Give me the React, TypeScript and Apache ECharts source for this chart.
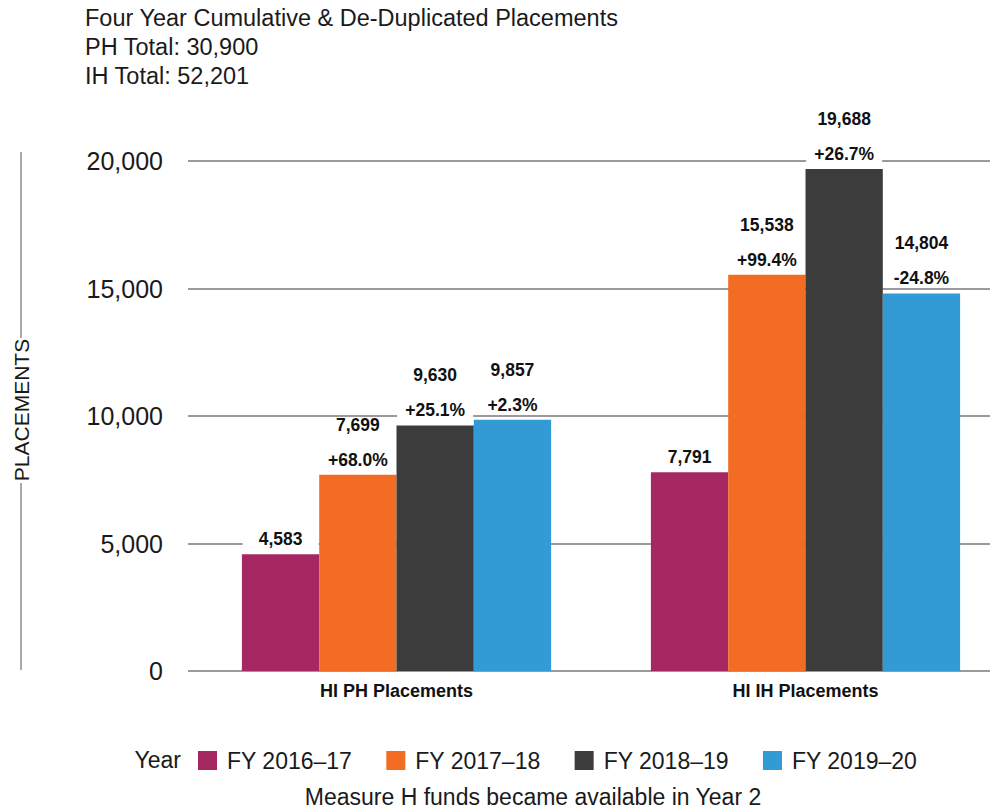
import React, { useEffect, useRef } from "react";
import * as echarts from "echarts";

const categories = ["HI PH Placements", "HI IH Placements"];
const seriesNames = ["FY 2016–17", "FY 2017–18", "FY 2018–19", "FY 2019–20"];
const values2016 = [4583, 7791];
const values2017 = [7699, 15538];
const values2018 = [9630, 19688];
const values2019 = [9857, 14804];
const change2016: (string | null)[] = [null, null];
const change2017 = ["+68.0%", "+99.4%"];
const change2018 = ["+25.1%", "+26.7%"];
const change2019 = ["+2.3%", "-24.8%"];
const colors = ["#A52862", "#F26C23", "#3C3C3C", "#329BD5"];
const titleLines = [
  "Four Year Cumulative & De-Duplicated Placements",
  "PH Total: 30,900",
  "IH Total: 52,201",
];
const yAxisName = "PLACEMENTS";
const legendTitle = "Year";
const footnote = "Measure H funds became available in Year 2";

const FONT = "'Liberation Sans', Arial, sans-serif";

export default function App() {
  const ref = useRef<HTMLDivElement>(null);
  useEffect(() => {
    document.body.style.margin = "0";
    if (!ref.current) return;
    const chart = echarts.init(ref.current, null, { renderer: "svg" });
    const allValues = [values2016, values2017, values2018, values2019];
    const allChanges = [change2016, change2017, change2018, change2019];
    const fmt = (n: number) => n.toLocaleString("en-US");
    const series = seriesNames.map((name, i) => ({
      name,
      type: "bar",
      barGap: "0%",
      barCategoryGap: "24.4%",
      itemStyle: { color: colors[i] },
      data: allValues[i],
      label: {
        show: true,
        position: "top",
        distance: 5,
        formatter: (p: any) => {
          const c = allChanges[i][p.dataIndex];
          return c ? `{v|${fmt(p.value)}}\n{p|${c}}` : `{p|${fmt(p.value)}}`;
        },
        rich: {
          v: {
            fontFamily: FONT,
            fontSize: 17.5,
            fontWeight: "bold",
            color: "#111",
            lineHeight: 50,
            width: 76,
            align: "center",
          },
          p: {
            fontFamily: FONT,
            fontSize: 17.5,
            fontWeight: "bold",
            color: "#111",
            lineHeight: 20,
            width: 76,
            align: "center",
            backgroundColor: "#ffffff",
          },
        },
      },
    }));

    chart.setOption({
      animation: false,
      backgroundColor: "#ffffff",
      textStyle: { fontFamily: FONT },
      title: {
        text: titleLines.join("\n"),
        left: 85,
        top: 3,
        padding: 0,
        textStyle: {
          fontFamily: FONT,
          fontSize: 23.5,
          fontWeight: "normal",
          color: "#1a1a1a",
          lineHeight: 29,
        },
      },
      legend: {
        left: 198,
        top: 749,
        padding: 0,
        itemWidth: 19,
        itemHeight: 19,
        itemGap: 34,
        icon: "rect",
        data: seriesNames,
        textStyle: {
          fontFamily: FONT,
          fontSize: 23,
          color: "#1a1a1a",
          padding: [2, 0, 0, 5],
        },
      },
      grid: {
        left: 192,
        top: 161,
        bottom: 139,
        width: 818,
        containLabel: false,
        outerBoundsMode: "none",
      },
      xAxis: {
        type: "category",
        data: categories,
        axisTick: { show: false },
        axisLine: { lineStyle: { color: "#9a9a9a", width: 2 } },
        axisLabel: {
          fontFamily: FONT,
          fontSize: 18,
          fontWeight: "bold",
          color: "#111",
          margin: 11,
        },
      },
      yAxis: {
        type: "value",
        min: 0,
        max: 20000,
        interval: 5000,
        axisLine: { show: false },
        axisTick: { show: true, length: 4, lineStyle: { color: "#9a9a9a", width: 2 } },
        splitLine: { lineStyle: { color: "#9a9a9a", width: 2 } },
        axisLabel: {
          fontFamily: FONT,
          fontSize: 25,
          color: "#1a1a1a",
          margin: 29,
          formatter: (v: number) => fmt(v),
        },
      },
      graphic: [
        {
          type: "text",
          x: 21,
          y: 410,
          rotation: Math.PI / 2,
          style: {
            text: yAxisName,
            fontFamily: FONT,
            fontSize: 21,
            fill: "#1a1a1a",
            align: "center",
            verticalAlign: "middle",
          },
        },
        {
          type: "line",
          shape: { x1: 21, y1: 152, x2: 21, y2: 338 },
          style: { stroke: "#555", lineWidth: 1 },
        },
        {
          type: "line",
          shape: { x1: 21, y1: 483, x2: 21, y2: 670 },
          style: { stroke: "#555", lineWidth: 1 },
        },
        {
          type: "text",
          x: 181,
          y: 760,
          style: {
            text: legendTitle,
            fontFamily: FONT,
            fontSize: 23,
            fill: "#1a1a1a",
            align: "right",
            verticalAlign: "middle",
          },
        },
        {
          type: "text",
          x: 533,
          y: 797,
          style: {
            text: footnote,
            fontFamily: FONT,
            fontSize: 23,
            fill: "#1a1a1a",
            align: "center",
            verticalAlign: "middle",
          },
        },
      ],
      series,
    });
    return () => chart.dispose();
  }, []);
  return <div ref={ref} style={{ width: 990, height: 810 }} />;
}
